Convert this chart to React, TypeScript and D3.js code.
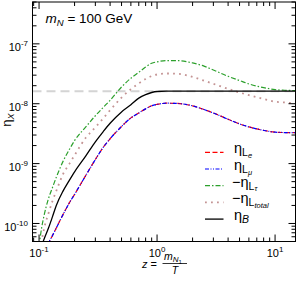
import React from 'react';
import * as d3 from 'd3';

// z = m_N1 / T
const zGrid = [0.1, 0.105, 0.11, 0.12, 0.13, 0.14, 0.16, 0.18, 0.2, 0.25, 0.3, 0.35, 0.4, 0.5, 0.6, 0.7, 0.8, 0.9, 1.0, 1.2, 1.5, 2, 2.5, 3, 4, 5, 6, 8, 10, 12, 15];
const etaLe = [2.0e-11, 2.6e-11, 3.3e-11, 4.7e-11, 6.3e-11, 8.4e-11, 1.42e-10, 2.19e-10, 3.06e-10, 6.44e-10, 1.17e-9, 1.87e-9, 2.6e-9, 4.17e-9, 5.8e-9, 7.0e-9, 8.2e-9, 9.25e-9, 9.75e-9, 1.02e-8, 1.01e-8, 9.2e-9, 8.0e-9, 7.0e-9, 5.5e-9, 4.6e-9, 4.1e-9, 3.59e-9, 3.35e-9, 3.3e-9, 3.28e-9];
const etaLmu = [2.0e-11, 2.6e-11, 3.3e-11, 4.7e-11, 6.3e-11, 8.4e-11, 1.42e-10, 2.19e-10, 3.06e-10, 6.44e-10, 1.17e-9, 1.87e-9, 2.6e-9, 4.17e-9, 5.8e-9, 7.0e-9, 8.2e-9, 9.25e-9, 9.75e-9, 1.02e-8, 1.01e-8, 9.2e-9, 8.0e-9, 7.0e-9, 5.5e-9, 4.6e-9, 4.1e-9, 3.59e-9, 3.35e-9, 3.3e-9, 3.28e-9];
const minusEtaLtau = [4.2e-11, 8.3e-11, 1.33e-10, 2.57e-10, 4.0e-10, 5.9e-10, 1.1e-9, 1.7e-9, 2.42e-9, 4.14e-9, 6.3e-9, 8.7e-9, 1.14e-8, 1.9e-8, 2.67e-8, 3.35e-8, 4.1e-8, 4.75e-8, 5.0e-8, 5.25e-8, 5.25e-8, 4.8e-8, 4.25e-8, 3.66e-8, 2.87e-8, 2.44e-8, 2.14e-8, 1.86e-8, 1.72e-8, 1.68e-8, 1.66e-8];
const minusEtaLtotal = [3.0e-11, 5.0e-11, 8.0e-11, 1.46e-10, 2.38e-10, 3.5e-10, 6.7e-10, 9.8e-10, 1.38e-9, 2.73e-9, 4.03e-9, 5.71e-9, 7.8e-9, 1.27e-8, 1.75e-8, 2.18e-8, 2.58e-8, 2.9e-8, 3.08e-8, 3.2e-8, 3.17e-8, 2.8e-8, 2.43e-8, 2.15e-8, 1.77e-8, 1.54e-8, 1.39e-8, 1.2e-8, 1.08e-8, 1.05e-8, 1.02e-8];
const etaB = [3.0e-11, 4.2e-11, 5.4e-11, 8.3e-11, 1.3e-10, 2.0e-10, 3.5e-10, 5.2e-10, 7.3e-10, 1.36e-9, 2.31e-9, 3.43e-9, 4.72e-9, 7.3e-9, 9.6e-9, 1.24e-8, 1.42e-8, 1.54e-8, 1.6e-8, 1.62e-8, 1.62e-8, 1.62e-8, 1.62e-8, 1.62e-8, 1.62e-8, 1.62e-8, 1.62e-8, 1.62e-8, 1.62e-8, 1.62e-8, 1.62e-8];
const etaRef = 1.62e-8;

const xMajor = [0.1, 1, 10];
const xMajorExp = ['-1', '0', '1'];
const yMajor = [1e-10, 1e-9, 1e-8, 1e-7];
const yMajorExp = ['-10', '-9', '-8', '-7'];

const W = 298, H = 281;
const L = 32.5, R = 295.5, T = 2, B = 241.5;

const x = d3.scaleLog().domain([0.088, 14.9]).range([L, R]);
const y = d3.scaleLog().domain([5e-11, 5e-7]).range([B, T]);

function minorTicks(domain: number[]) {
  const out: number[] = [];
  const lo = Math.floor(Math.log10(domain[0]));
  const hi = Math.ceil(Math.log10(domain[1]));
  for (let e = lo; e <= hi; e++) {
    for (let k = 2; k <= 9; k++) {
      const v = k * Math.pow(10, e);
      if (v >= domain[0] && v <= domain[1]) out.push(v);
    }
  }
  return out;
}

const series = [
  { key: 'Le', vals: etaLe, color: '#ff0000', dash: '5,2.5', w: 1.2 },
  { key: 'Lmu', vals: etaLmu, color: '#0000ff', dash: '4,1.5,1,1.5,1,1.5', w: 1.2 },
  { key: 'Ltau', vals: minusEtaLtau, color: '#2ca02c', dash: '5,2,1.5,2', w: 1.2 },
  { key: 'Ltot', vals: minusEtaLtotal, color: '#c49494', dash: '1.8,4.2', w: 1.8 },
  { key: 'B', vals: etaB, color: '#000000', dash: '', w: 1.3 },
];

export default function App() {
  const line = d3.line<number>()
    .x((_, i) => x(zGrid[i]))
    .y((d) => y(d))
    .curve(d3.curveMonotoneX);
  const xMin = minorTicks(x.domain());
  const yMin = minorTicks(y.domain());
  const font = 'Liberation Sans, Arial, Helvetica, sans-serif';
  const legendRows = [152.3, 169, 185.7, 202.4, 219.1];
  return (
    <svg width={W} height={H} style={{ position: 'absolute', left: 0, top: 0, background: '#fff' }} fontFamily={font}>
      <defs>
        <clipPath id="plotclip">
          <rect x={L} y={T} width={R - L} height={B - T} />
        </clipPath>
      </defs>
      <g clipPath="url(#plotclip)">
        <line x1={L} x2={R} y1={y(etaRef)} y2={y(etaRef)} stroke="#d4d4d4" strokeWidth={2} strokeDasharray="9,5" />
        {series.map((s) => (
          <path key={s.key} d={line(s.vals) || ''} fill="none" stroke={s.color} strokeWidth={s.w} strokeDasharray={s.dash || undefined} />
        ))}
      </g>
      <rect x={L} y={T} width={R - L} height={B - T} fill="none" stroke="#000" strokeWidth={1} />
      {xMajor.map((v) => (
        <g key={'xM' + v}>
          <line x1={x(v)} x2={x(v)} y1={B} y2={B - 7} stroke="#000" />
          <line x1={x(v)} x2={x(v)} y1={T} y2={T + 7} stroke="#000" />
        </g>
      ))}
      {xMin.map((v) => (
        <g key={'xm' + v}>
          <line x1={x(v)} x2={x(v)} y1={B} y2={B - 4} stroke="#000" />
          <line x1={x(v)} x2={x(v)} y1={T} y2={T + 4} stroke="#000" />
        </g>
      ))}
      {yMajor.map((v) => (
        <g key={'yM' + v}>
          <line x1={L} x2={L + 7} y1={y(v)} y2={y(v)} stroke="#000" />
          <line x1={R} x2={R - 7} y1={y(v)} y2={y(v)} stroke="#000" />
        </g>
      ))}
      {yMin.map((v) => (
        <g key={'ym' + v}>
          <line x1={L} x2={L + 4} y1={y(v)} y2={y(v)} stroke="#000" />
          <line x1={R} x2={R - 4} y1={y(v)} y2={y(v)} stroke="#000" />
        </g>
      ))}
      {xMajor.map((v, i) => (
        <text key={'xl' + v} x={x(v)} y={257} textAnchor="middle" fontSize={11}>
          10<tspan dy={-5} fontSize={8}>{xMajorExp[i]}</tspan>
        </text>
      ))}
      {yMajor.map((v, i) => (
        <text key={'yl' + v} x={28} y={y(v) + 7.5} textAnchor="end" fontSize={11}>
          10<tspan dy={-5} fontSize={8}>{yMajorExp[i]}</tspan>
        </text>
      ))}
      <text x={45.5} y={22.5} fontSize={13.5}>
        <tspan fontStyle="italic">m</tspan>
        <tspan fontStyle="italic" fontSize={9.5} dy={3}>N</tspan>
        <tspan dy={-3}> = 100 GeV</tspan>
      </text>
      <text transform="translate(10.5,120) rotate(-90)" textAnchor="middle" fontSize={13}>
        η<tspan fontStyle="italic" fontSize={9} dy={3}>X</tspan>
      </text>
      <text x={142} y={268} fontSize={11}>
        <tspan fontStyle="italic">z</tspan> =
      </text>
      <text x={164} y={260} fontSize={10.5}>
        <tspan fontStyle="italic">m</tspan>
        <tspan fontStyle="italic" fontSize={8} dy={2}>N</tspan>
        <tspan fontSize={6} dy={1.5}>1</tspan>
      </text>
      <line x1={162.5} x2={187} y1={263.5} y2={263.5} stroke="#000" strokeWidth={0.8} />
      <text x={175} y={274} fontSize={10.5} textAnchor="middle" fontStyle="italic">T</text>
      {series.map((s, i) => (
        <line key={'lg' + s.key} x1={205} x2={223.5} y1={legendRows[i]} y2={legendRows[i]} stroke={s.color} strokeWidth={s.w} strokeDasharray={s.dash || undefined} />
      ))}
      <text x={234} y={legendRows[0] + 1} fontSize={14.5}>
        η<tspan fontSize={10.5} dy={3}>L</tspan><tspan fontSize={7.5} dy={1.5} fontStyle="italic">e</tspan>
      </text>
      <text x={234} y={legendRows[1] + 1} fontSize={14.5}>
        η<tspan fontSize={10.5} dy={3}>L</tspan><tspan fontSize={7.5} dy={1.5} fontStyle="italic">μ</tspan>
      </text>
      <text x={232} y={legendRows[2] + 1} fontSize={14.5}>
        −η<tspan fontSize={10.5} dy={3}>L</tspan><tspan fontSize={7.5} dy={1.5} fontStyle="italic">τ</tspan>
      </text>
      <text x={232} y={legendRows[3] + 1} fontSize={14.5}>
        −η<tspan fontSize={10.5} dy={3}>L</tspan><tspan fontSize={7.5} dy={1.5} fontStyle="italic">total</tspan>
      </text>
      <text x={234} y={legendRows[4] + 1} fontSize={14.5}>
        η<tspan fontSize={10.5} dy={3} fontStyle="italic">B</tspan>
      </text>
    </svg>
  );
}
